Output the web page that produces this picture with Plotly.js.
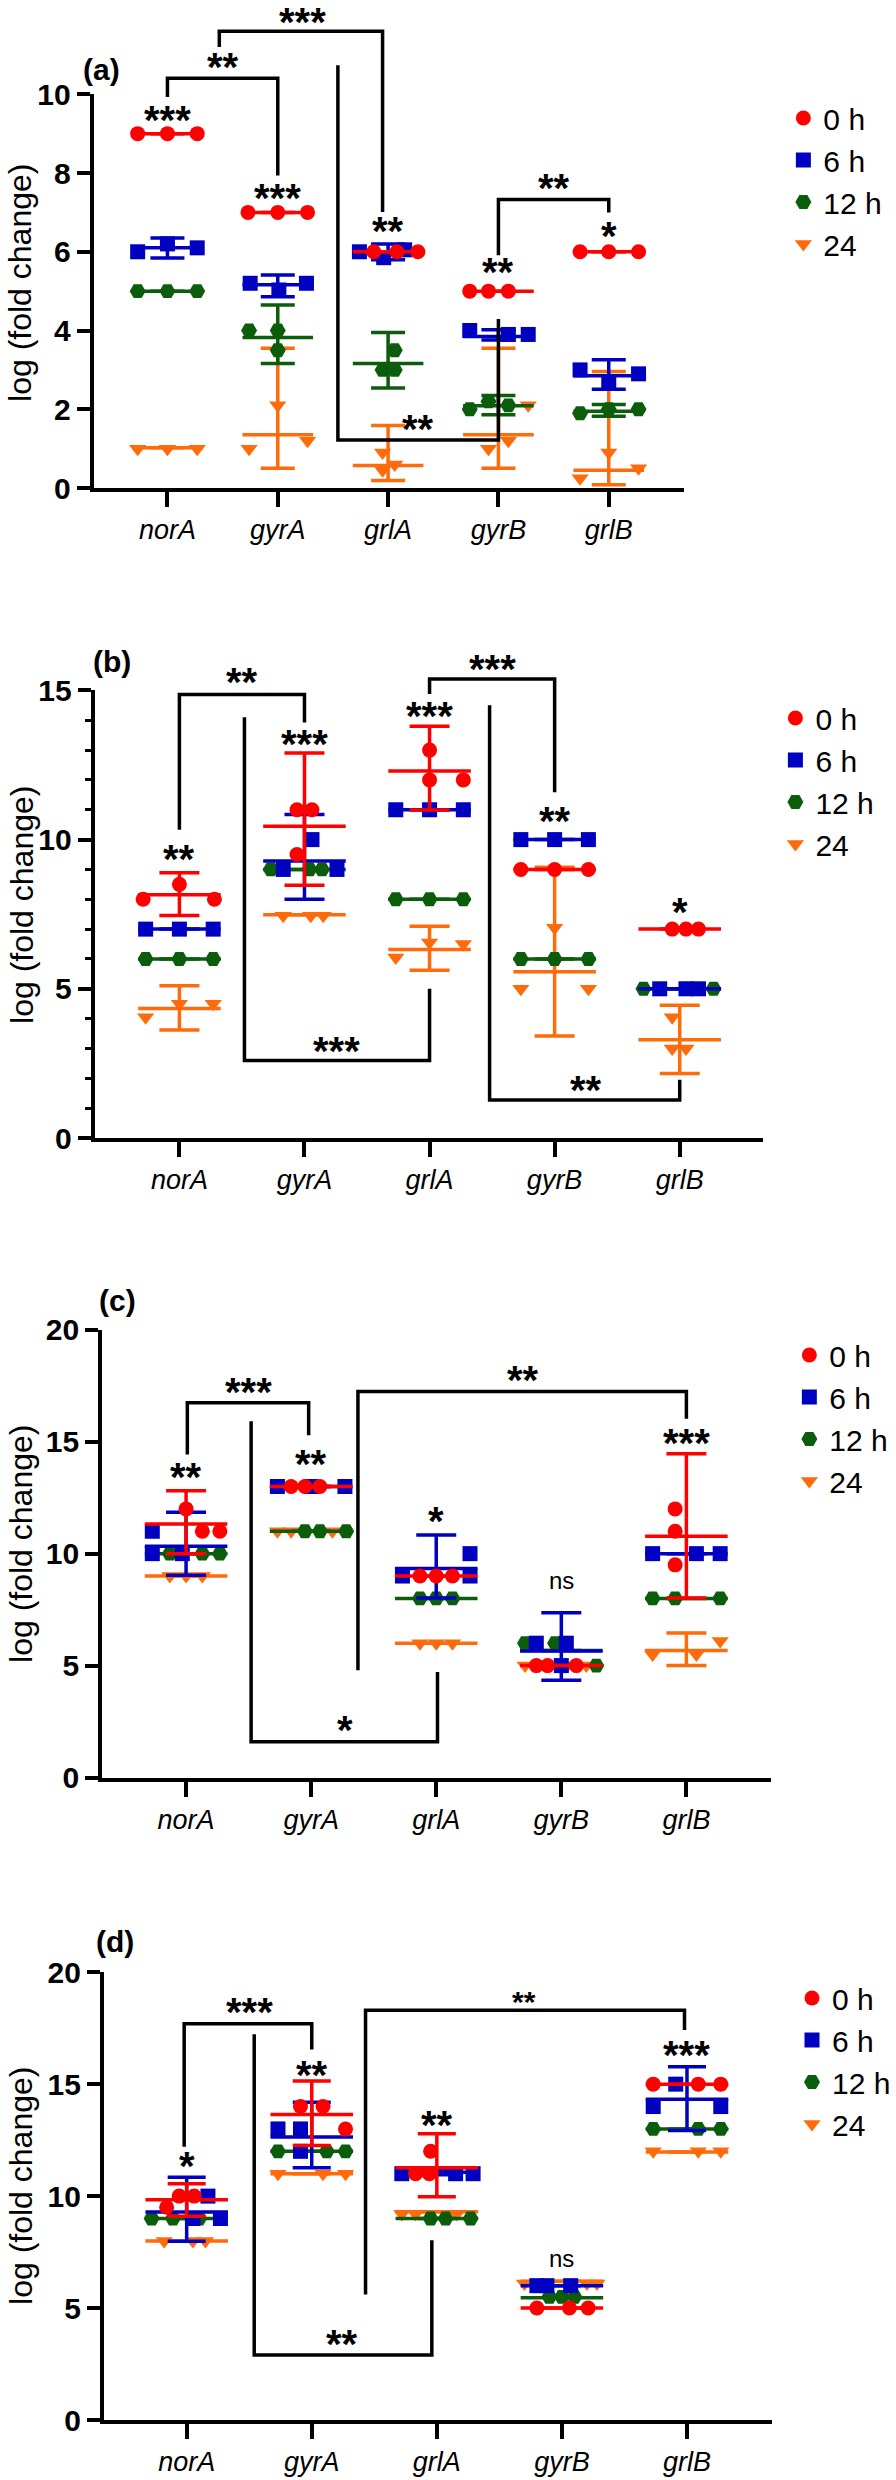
<!DOCTYPE html>
<html><head><meta charset="utf-8">
<script src="https://cdn.plot.ly/plotly-3.0.1.min.js"></script>
<style>html,body{margin:0;padding:0;background:#fff}</style>
</head><body>
<div id="chart" style="width:896px;height:2480px"></div>
<script>
// ---------- categories / series ----------
const genes = ['norA','gyrA','grlA','gyrB','grlB'];
const seriesNames = ['0 h','6 h','12 h','24'];

// ---------- panel (a): replicate values [gene][rep] ----------
const a_0h  = [[9,9,9],[7,7,7],[6,6,6],[5,5,5],[6,6,6]];
const a_6h  = [[6.0,6.2,6.1],[5.2,5.03,5.2],[6.0,5.85,6.05],[4.0,3.9,3.9],[3.0,2.7,2.9]];
const a_12h = [[5,5,5],[4.0,4.0,3.5],[3.5,3.0,3.0],[2.0,2.2,2.1],[1.9,2.0,2.0]];
const a_24  = [[1.0,1.0,1.0],[1.0,2.1,1.2],[0.9,0.45,0.6],[2.1,1.0,1.2],[0.25,0.9,0.5]];
// mean and error-bar ends [series][gene]
const a_mean = [[9,7,6,5,6],[6.1,5.16,6.0,3.85,2.85],[5,3.82,3.16,2.09,1.95],[1.02,1.35,0.57,1.35,0.45]];
const a_hi   = [[9,7,6,5,6],[6.35,5.41,6.2,4.02,3.26],[5,4.65,3.95,2.35,2.12],[1.02,3.55,1.59,3.55,2.96]];
const a_lo   = [[9,7,6,5,6],[5.84,4.86,5.8,3.76,2.51],[5,3.16,2.54,1.86,1.82],[1.02,0.5,0.19,0.5,0.08]];
const a_sig  = ['***','***','**','**','*'];
const a_sigY = [9.55,7.56,6.72,5.7,6.6];

// ---------- panel (b) ----------
const b_0h  = [[8.5,8.0,8.0],[11,11,9.5],[13,12,12],[9,9,9],[7,7,7]];
const b_6h  = [[7,7,7],[9,10,9],[11,11,11],[10,10,10],[5,5,5]];
const b_12h = [[6,6,6],[9,9,9],[8,8,8],[6,6,6],[5,5,5]];
const b_24  = [[4.05,4.5,4.5],[7.45,7.45,7.45],[6.05,6.55,6.5],[7.05,5.0,5.0],[4.05,3.0,3.0]];
const b_mean = [[8.15,10.45,12.3,9,7],[7,9.28,11,10,5],[6,9,8,6,5],[4.34,7.48,6.32,5.57,3.29]];
const b_hi   = [[8.89,12.9,13.8,9,7],[7,10.84,11,10,5],[6,9,8,6,5],[5.1,7.48,7.1,9.07,4.45]];
const b_lo   = [[7.46,8.47,10.99,9,7],[7,8.0,11,10,5],[6,9,8,6,5],[3.62,7.48,5.62,3.42,2.16]];
const b_sig  = ['**','***','***','**','*'];
const b_sigY = [9.61,13.47,14.4,10.89,7.84];

// ---------- panel (c) ----------
const c_0h  = [[12,11,11],[13,13,13],[9,9,9],[5,5,5],[12,11,9.5]];
const c_6h  = [[11,10,10],[13,13,13],[10,9,9],[6,6,5],[10,10,10]];
const c_12h = [[10,10,10],[11,11,11],[8,8,8],[6,6,5],[8,8,8]];
const c_24  = [[9,9,9],[11,11,11],[6,6,6],[5,5,5],[5.5,5.5,6.1]];
const c_mean = [[11.32,13,9,5,10.78],[10.33,13,9.34,5.65,10],[10,11,8,5.67,8],[9,11,6,5,5.67]];
const c_hi   = [[12.81,13,9,5,14.46],[11.85,13,10.83,7.36,10],[10,11,8,5.67,8],[9,11,6,5,6.45]];
const c_lo   = [[10.0,13,9,5,8.02],[9.04,13,8.02,4.35,10],[10,11,8,5.67,8],[9,11,6,5,5.0]];
const c_sig  = ['**','**','*','ns','***'];
const c_sigY = [13.8,14.38,11.82,8.71,15.3];

// ---------- panel (d) ----------
const d_0h  = [[9.5,10,10],[14,14,13],[12,11,11],[5,5,5],[15,15,15]];
const d_6h  = [[10,9,9],[13,13,12],[11,11,11],[6,6,6],[15,14,14]];
const d_12h = [[9,9,9],[12,12,12],[9,9,9],[5.5,5.5,5.5],[13,13,13]];
const d_24  = [[8,8,8],[11,11,11],[9.2,9.2,9.2],[6.1,6.1,6.1],[12,12,12]];
const d_mean = [[9.84,13.65,11.27,5.0,15],[9.29,12.64,11.07,6.0,14.33],[9,12,9,5.46,13],[8,11,9.3,6.2,11.97]];
const d_hi   = [[10.55,15.14,12.78,5.0,15],[10.84,14.19,11.2,6.0,15.78],[9,12,9,5.46,13],[8,11,9.3,6.2,11.97]];
const d_lo   = [[9.1,12.26,9.97,5.0,15],[7.98,11.27,10.95,6.0,12.93],[9,12,9,5.46,13],[8,11,9.3,6.2,11.97]];
const d_sig  = ['*','**','**','ns','***'];
const d_sigY = [11.71,15.78,13.55,7.12,16.65];

// ---------- horizontal scatter offsets of replicates (layout, not data) ----------
const a_jit = [
 [[-0.27,0,0.27],[-0.27,0,0.27],[-0.13,0.08,0.27],[-0.26,-0.09,0.09],[-0.26,0,0.27]],
 [[-0.27,0,0.27],[-0.25,0.01,0.26],[-0.26,-0.04,0.15],[-0.26,0.09,0.27],[-0.26,0,0.27]],
 [[-0.27,0,0.27],[-0.26,0,0],[0.06,-0.05,0.06],[-0.26,-0.09,0.09],[-0.26,0,0.27]],
 [[-0.27,0,0.27],[-0.26,0,0.27],[-0.05,-0.05,0.06],[0.27,-0.09,0.09],[-0.26,0,0.27]]];
const b_jit = [
 [[0,-0.29,0.28],[-0.06,0.06,-0.06],[0,0,0.27],[-0.27,0,0.27],[-0.06,0.05,0.15]],
 [[-0.27,0,0.27],[-0.17,0.06,0.26],[-0.27,0,0.27],[-0.27,0,0.27],[-0.16,0.05,0.15]],
 [[-0.27,0,0.27],[-0.27,0.04,0.14],[-0.27,0,0.27],[-0.27,0,0.27],[-0.29,0.05,0.27]],
 [[-0.27,0,0.27],[-0.17,0.05,0.15],[-0.27,0,0.27],[0,-0.27,0.27],[-0.06,-0.06,0.05]]];
const c_jit = [
 [[0,0.13,0.27],[-0.16,-0.05,0.07],[-0.13,0,0.13],[-0.2,-0.11,0.12],[-0.09,-0.09,-0.09]],
 [[-0.27,-0.27,-0.03],[-0.27,0,0.27],[0.27,-0.27,0.27],[-0.2,0.04,0],[-0.27,0.08,0.27]],
 [[-0.13,0.13,0.27],[-0.05,0.07,0.28],[-0.13,0,0.13],[-0.29,-0.05,0.28],[-0.27,-0.09,0.27]],
 [[-0.13,0,0.13],[-0.27,-0.16,0.17],[-0.13,0,0.13],[-0.29,0.2,0.05],[-0.27,0.08,0.27]]];
const d_jit = [
 [[-0.16,-0.06,0.06],[-0.09,0.09,0.27],[-0.05,-0.17,-0.06],[-0.2,0.06,0.21],[-0.27,0.09,0.27]],
 [[0.17,0.27,0.05],[-0.27,-0.09,-0.09],[-0.28,0.15,0.29],[-0.2,-0.12,0.07],[-0.09,-0.27,0.27]],
 [[-0.28,-0.11,0.1],[-0.27,0.12,0.27],[-0.05,0.07,0.27],[-0.1,0,0.1],[-0.27,0.09,0.27]],
 [[-0.18,0.05,0.15],[-0.27,0.09,0.27],[-0.28,-0.17,0.16],[-0.3,0.2,0.28],[-0.27,0.09,0.27]]];

// ---------- significance brackets (data coordinates) ----------
const a_brackets = [[[0,9.93],[0,10.41],[1,10.41],[1,7.94]],[[0.47,11.2],[0.47,11.6],[1.95,11.6],[1.95,7.01]],
                    [[1.545,10.74],[1.545,1.22],[3,1.22],[3,4.29]],[[3,5.91],[3,7.33],[4,7.33],[4,7.0]]];
const a_brText = ['**','***','**','**'];
const a_brAt = [[0.5,10.9],[1.22,12.05],[2.27,1.7],[3.5,7.82]];
const b_brackets = [[[0,10.33],[0,14.86],[1,14.86],[1,13.92]],[[2,14.88],[2,15.38],[3,15.38],[3,11.59]],
                    [[0.52,14.1],[0.52,2.6],[2,2.6],[2,5.0]],[[2.48,14.5],[2.48,1.27],[4,1.27],[4,1.95]]];
const b_brText = ['**','***','***','**'];
const b_brAt = [[0.5,15.54],[2.5,16.0],[1.26,3.2],[3.25,1.89]];
const c_brackets = [[[0.01,14.43],[0.01,16.74],[0.98,16.74],[0.98,15.29]],[[1.374,4.79],[1.374,17.24],[4,17.24],[4,16.03]],
                    [[0.52,15.92],[0.52,1.6],[2.01,1.6],[2.01,4.71]]];
const c_brText = ['***','**','*'];
const c_brAt = [[0.5,17.6],[2.69,18.13],[1.27,2.48]];
const d_brackets = [[[-0.02,12.2],[-0.02,17.7],[1,17.7],[1,16.55]],[[0.54,17.23],[0.54,2.9],[1.96,2.9],[1.96,8.03]],
                    [[1.43,5.61],[1.43,18.3],[3.98,18.3],[3.98,17.42]]];
const d_brText = ['***','**','**'];
const d_brAt = [[0.5,18.59],[1.24,3.74],[2.7,18.97]];
const d_brSize = [40,40,30];

// ---------- styling ----------
const W = 896, H = 2480;
const FONT = 'Liberation Sans, Arial, Helvetica, sans-serif';
const COLORS = ['#ff0000','#0000c0','#0b5d0b','#ff6a0a'];
const SYMBOLS = ['circle','square','hexagon2','triangle-down'];
const MSIZE = [15,15,16,15];

const panels = [
 {letter:'(a)', left:94, right:686, zeroY:488, topY:94.3, top:10, dtick:2, minor:false, cat0:168, step:110.7, half:0.32, cap:17,
  vals:[a_0h,a_6h,a_12h,a_24], mean:a_mean, hi:a_hi, lo:a_lo, jit:a_jit, br:a_brackets, brText:a_brText, brAt:a_brAt, brSize:null,
  sig:a_sig, sigY:a_sigY, letterAt:[102,70], titleAt:[20,283], legendAt:[786,92]},
 {letter:'(b)', left:95, right:766, zeroY:1138, topY:690.4, top:15, dtick:5, minor:true, cat0:180, step:125.5, half:0.33, cap:20,
  vals:[b_0h,b_6h,b_12h,b_24], mean:b_mean, hi:b_hi, lo:b_lo, jit:b_jit, br:b_brackets, brText:b_brText, brAt:b_brAt, brSize:null,
  sig:b_sig, sigY:b_sigY, letterAt:[112,662], titleAt:[22,905], legendAt:[778,692]},
 {letter:'(c)', left:102.5, right:774, zeroY:1777.5, topY:1329.8, top:20, dtick:5, minor:false, cat0:186.7, step:125.5, half:0.33, cap:20,
  vals:[c_0h,c_6h,c_12h,c_24], mean:c_mean, hi:c_hi, lo:c_lo, jit:c_jit, br:c_brackets, brText:c_brText, brAt:c_brAt, brSize:null,
  sig:c_sig, sigY:c_sigY, letterAt:[118,1300], titleAt:[21,1544], legendAt:[792,1329]},
 {letter:'(d)', left:104.3, right:775, zeroY:2420, topY:1972.2, top:20, dtick:5, minor:false, cat0:187.3, step:125.5, half:0.33, cap:19,
  vals:[d_0h,d_6h,d_12h,d_24], mean:d_mean, hi:d_hi, lo:d_lo, jit:d_jit, br:d_brackets, brText:d_brText, brAt:d_brAt, brSize:d_brSize,
  sig:d_sig, sigY:d_sigY, letterAt:[115,1941], titleAt:[21,2186], legendAt:[795,1972]}
];

const traces = [], shapes = [], annotations = [];
const layout = {width:W, height:H, margin:{l:0,r:0,t:0,b:0}, paper_bgcolor:'#fff', plot_bgcolor:'rgba(0,0,0,0)',
  font:{family:FONT, color:'#000'}, showlegend:true, shapes, annotations};

panels.forEach((P, i) => {
  const sfx = i === 0 ? '' : String(i + 1);
  const xr = 'x' + sfx, yr = 'y' + sfx, lg = 'legend' + sfx;
  const px = x => (P.cat0 + x * P.step) / W;
  const py = y => 1 - (P.zeroY - y * (P.zeroY - P.topY) / P.top) / H;

  layout['xaxis' + sfx] = {domain:[P.left / W, P.right / W], range:[(P.left - P.cat0) / P.step, (P.right - P.cat0) / P.step],
    anchor:yr, showline:true, linewidth:4, linecolor:'#000', ticks:'outside', ticklen:15, tickwidth:4, tickcolor:'#000',
    tickmode:'array', tickvals:[0,1,2,3,4], ticktext:genes, tickfont:{family:FONT, size:27, style:'italic', color:'#000'},
    showgrid:false, zeroline:false, fixedrange:true};
  const ya = {domain:[1 - P.zeroY / H, 1 - P.topY / H], range:[0, P.top], anchor:xr, showline:true, linewidth:4, linecolor:'#000',
    ticks:'outside', ticklen:13, tickwidth:4, tickcolor:'#000', tickmode:'linear', tick0:0, dtick:P.dtick,
    tickfont:{family:FONT, size:30, weight:'bold', color:'#000'}, showgrid:false, zeroline:false, fixedrange:true};
  if (P.minor) ya.minor = {tickmode:'linear', tick0:0, dtick:1, ticks:'outside', ticklen:6, tickwidth:3, tickcolor:'#000', showgrid:false};
  layout['yaxis' + sfx] = ya;

  layout[lg] = {x:P.legendAt[0] / W, y:1 - P.legendAt[1] / H, xanchor:'left', yanchor:'top', bgcolor:'rgba(0,0,0,0)',
    font:{family:FONT, size:30, color:'#000'}, traceorder:'reversed', tracegroupgap:0, borderwidth:0};

  [3,2,1,0].forEach(s => {
    const xs = [], ys = [];
    P.vals[s].forEach((g, gi) => g.forEach((v, k) => { xs.push(gi + P.jit[s][gi][k]); ys.push(v); }));
    traces.push({type:'scatter', mode:'markers', xaxis:xr, yaxis:yr, x:[0,1,2,3,4], y:P.mean[s], showlegend:false,
      hoverinfo:'skip', cliponaxis:false, marker:{size:1, color:'rgba(0,0,0,0)'},
      error_x:{type:'constant', value:P.half, width:0, thickness:3.5, color:COLORS[s]},
      error_y:{type:'data', symmetric:false, array:P.hi[s].map((h, k) => h - P.mean[s][k]),
               arrayminus:P.mean[s].map((m, k) => m - P.lo[s][k]), width:P.cap, thickness:3.5, color:COLORS[s]}});
    traces.push({type:'scatter', mode:'markers', xaxis:xr, yaxis:yr, x:xs, y:ys, name:seriesNames[s], legend:lg,
      cliponaxis:false, marker:{symbol:SYMBOLS[s], size:MSIZE[s], color:COLORS[s], line:{width:0}}});
  });

  // brackets
  P.br.forEach((pts, k) => {
    const path = pts.map((p, j) => (j ? 'L' : 'M') + px(p[0]).toFixed(5) + ',' + py(p[1]).toFixed(5)).join(' ');
    shapes.push({type:'path', xref:'paper', yref:'paper', path, line:{color:'#000', width:3.5}});
    const fs = P.brSize ? P.brSize[k] : 40;
    annotations.push({xref:'paper', yref:'paper', x:px(P.brAt[k][0]), y:py(P.brAt[k][1]), text:P.brText[k], showarrow:false,
      xanchor:'center', yanchor:'middle', yshift:-fs * 0.2, font:{family:FONT, size:fs, weight:'bold', color:'#000'}});
  });
  // per-gene significance
  P.sig.forEach((t, g) => {
    const isNs = t === 'ns';
    annotations.push({xref:'paper', yref:'paper', x:px(g), y:py(P.sigY[g]), text:t, showarrow:false, xanchor:'center', yanchor:'middle',
      yshift:isNs ? 2 : -8, font:{family:FONT, size:isNs ? 24 : 40, weight:isNs ? 'normal' : 'bold', color:'#000'}});
  });
  // panel letter and y title
  annotations.push({xref:'paper', yref:'paper', x:P.letterAt[0] / W, y:1 - P.letterAt[1] / H, text:P.letter, showarrow:false,
    xanchor:'center', yanchor:'middle', font:{family:FONT, size:30, weight:'bold', color:'#000'}});
  annotations.push({xref:'paper', yref:'paper', x:P.titleAt[0] / W, y:1 - P.titleAt[1] / H, text:'log (fold change)', textangle:-90,
    showarrow:false, xanchor:'center', yanchor:'middle', font:{family:FONT, size:32, color:'#000'}});
});

Plotly.newPlot('chart', traces, layout, {staticPlot:true, displayModeBar:false});
</script>
</body></html>
